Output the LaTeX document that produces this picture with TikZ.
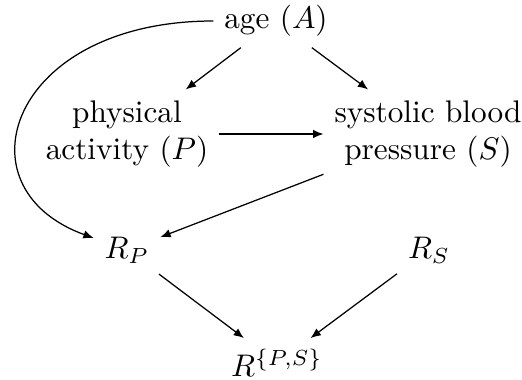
\documentclass[tikz,border=0pt]{standalone}
\usetikzlibrary{arrows.meta}
\begin{document}
\begin{tikzpicture}[x=0.32pt,y=-0.32pt,
  vnode/.style={align=center},
  edge/.style={-{Latex[length=3.3pt,width=2.7pt]}, line width=0.4pt}]
\useasboundingbox (0,0) rectangle (522,379);
\node[vnode] (A) at (276,21) {age $(A)$};
\node[vnode] (P) at (127,134) {physical\\activity $(P)$};
\node[vnode] (S) at (428,134) {systolic blood\\pressure $(S)$};
\node[vnode] (RP) at (127,250) {$R_P$};
\node[vnode] (RS) at (429,250) {$R_S$};
\node[vnode] (RPS) at (277,363) {$R^{\{P,S\}}$};
\draw[edge] (A) -- (P);
\draw[edge] (A) -- (S);
\draw[edge] (P) -- (S);
\draw[edge] (S) -- (RP);
\draw[edge] (RP) -- (RPS);
\draw[edge] (RS) -- (RPS);
\draw[edge] (A) .. controls (10,21) and (-45,188) .. (RP);
\end{tikzpicture}
\end{document}
